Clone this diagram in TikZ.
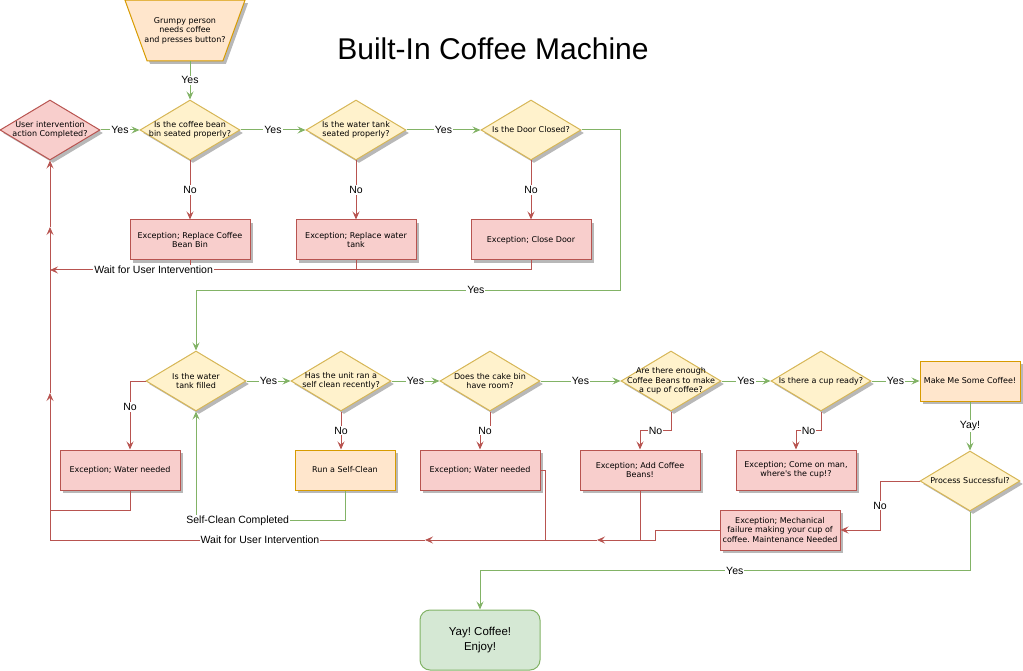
\documentclass[tikz,border=0pt]{standalone}
\usepackage{fontspec}
\setmainfont{Liberation Sans}
\newfontfamily\boxfont{DejaVu Sans}
\frenchspacing
\usepackage{tikz}
\usetikzlibrary{
  calc,             % Offsets on anchors
  shapes.geometric, % diamond, trapezium
  shadows           % Offset grey shadows under boxes
}
\usetikzlibrary{arrows.meta}

\definecolor{okGreen}{HTML}{82B366}
\definecolor{badRed}{HTML}{B85450}
\definecolor{askFill}{HTML}{FFF2CC}
\definecolor{askLine}{HTML}{D6B656}
\definecolor{failFill}{HTML}{F8CECC}
\definecolor{doFill}{HTML}{FFE6CC}
\definecolor{doLine}{HTML}{D79B00}
\definecolor{doneFill}{HTML}{D5E8D4}

\begin{document}
\begin{tikzpicture}[x=1pt, y=-1pt,
    boxshadow/.style={drop shadow={shadow xshift=3pt, shadow yshift=-3pt, fill=black!28, opacity=1}},
    boxtext/.style={font=\boxfont\fontsize{8}{9.5}\selectfont, align=center},
    question/.style={diamond, aspect=1.667, minimum width=100pt, minimum height=60pt, inner sep=-15pt,
      draw=askLine, line width=1pt, fill=askFill, boxshadow, boxtext},
    alarm/.style={question, draw=badRed, fill=failFill},
    failbox/.style={rectangle, minimum width=120pt, minimum height=40pt, inner sep=2pt,
      draw=badRed, line width=1pt, fill=failFill, boxshadow, boxtext},
    actbox/.style={failbox, minimum width=100pt, draw=doLine, fill=doFill},
    startbox/.style={trapezium, trapezium stretches body=true, shape border rotate=180, trapezium angle=70,
      minimum width=120pt, inner xsep=-4pt, inner ysep=17pt, draw=doLine, line width=1pt, fill=doFill,
      boxshadow, boxtext},
    donebox/.style={rectangle, rounded corners=10pt, minimum width=120pt, minimum height=60pt,
      draw=okGreen, line width=1pt, fill=doneFill, align=center, font=\fontsize{11.5}{15}\selectfont},
    tip/.style={-{Stealth[length=8pt, width=7pt, inset=3pt]}},
    yesline/.style={draw=okGreen, line width=1pt, tip},
    noline/.style={draw=badRed, line width=1pt, tip},
    redline/.style={draw=badRed, line width=1pt},
    lbl/.style={fill=white, inner sep=1pt, text=black, font=\fontsize{10.5}{12}\selectfont}]
  \useasboundingbox (0,0) rectangle (1023,671);

  \node[font=\fontsize{30}{34}\selectfont] (title) at (493,49) {Built-In Coffee Machine};
  \node[startbox] (start) at (185,30.5) {Grumpy person\\needs coffee\\and presses button?};

  % top row of checks
  \node[alarm] (d0) at (50,130) {User intervention\\action Completed?};
  \node[question] (d1) at (190,130) {Is the coffee bean\\bin seated properly?};
  \node[question] (d2) at (356,130) {Is the water tank\\seated properly?};
  \node[question] (d3) at (531,130) {Is the Door Closed?};
  \node[failbox] (e1) at (190,240) {Exception; Replace Coffee\\Bean Bin};
  \node[failbox] (e2) at (356,240) {Exception; Replace water\\tank};
  \node[failbox] (e3) at (531,240) {Exception; Close Door};

  % bottom row of checks
  \node[question] (d4) at (196,381) {Is the water\\tank filled};
  \node[question] (d5) at (341,381) {Has the unit ran a\\self clean recently?};
  \node[question] (d6) at (490,381) {Does the cake bin\\have room?};
  \node[question] (d7) at (671,381) {Are there enough\\Coffee Beans to make\\a cup of coffee?};
  \node[question] (d8) at (821,381) {Is there a cup ready?};
  \node[actbox] (p1) at (970,381) {Make Me Some Coffee!};
  \node[question] (d9) at (970,481) {Process Successful?};
  \node[failbox] (e4) at (120,470) {Exception; Water needed};
  \node[actbox] (p2) at (345,470) {Run a Self-Clean};
  \node[failbox] (e5) at (480,470) {Exception; Water needed};
  \node[failbox] (e6) at (640,470) {Exception; Add Coffee\\Beans!};
  \node[failbox] (e7) at (796,470) {Exception; Come on man,\\where's the cup!?};
  \node[failbox] (e8) at (780,530) {Exception; Mechanical\\failure making your cup of\\coffee. Maintenance Needed};
  \node[donebox] (done) at (480,640) {Yay! Coffee!\\Enjoy!};

  % corners of the return lines
  \coordinate (wTop) at (50,270);
  \coordinate (wMid) at (50,510);
  \coordinate (wBot) at (50,540);
  \coordinate (upA) at (50,393);
  \coordinate (upB) at (50,227);
  \coordinate (lowA) at (425,540);
  \coordinate (lowB) at (597,540);
  \coordinate (lowC) at (655,540);
  \coordinate (cakeC) at (545,540);
  \coordinate (doorC) at (620,290);
  \coordinate (failC) at (880,530);

  % top row
  \draw[yesline] (d1.north |- start.south) -- node[lbl]{Yes} (d1.north);
  \draw[yesline] (d0.east) -- node[lbl]{Yes} (d1.west);
  \draw[yesline] (d1.east) -- node[lbl]{Yes} (d2.west);
  \draw[yesline] (d2.east) -- node[lbl]{Yes} (d3.west);
  \draw[yesline] (d3.east) -| (doorC) -- node[lbl, pos=0.34]{Yes} (doorC -| d4.north) -- (d4.north);
  \draw[noline] (d1.south) -- node[lbl]{No} (e1.north);
  \draw[noline] (d2.south) -- node[lbl]{No} (e2.north);
  \draw[noline] (d3.south) -- node[lbl]{No} (e3.north);
  \draw[redline] (e3.south) |- (e1.south |- wTop);
  \draw[redline] (e2.south) -- (e2.south |- wTop);
  \draw[noline] (e1.south) |- node[lbl, pos=0.63]{Wait for User Intervention} (wTop);
  \draw[noline] (wBot) -- (upA);
  \draw[noline] (upA) -- (upB);
  \draw[noline] (upB) -- (d0.south);

  % bottom row
  \draw[yesline] (d4.east) -- node[lbl]{Yes} (d5.west);
  \draw[yesline] (d5.east) -- node[lbl]{Yes} (d6.west);
  \draw[yesline] (d6.east) -- node[lbl]{Yes} (d7.west);
  \draw[yesline] (d7.east) -- node[lbl]{Yes} (d8.west);
  \draw[yesline] (d8.east) -- node[lbl]{Yes} (p1.west);
  \draw[noline] (d4.west) -| node[lbl, pos=0.69]{No} ($(e4.north)+(10,0)$);
  \draw[noline] (d5.south) -- node[lbl]{No} (d5.south |- p2.north);
  \draw[noline] (d6.south) -- ++(0,19) -| node[lbl, pos=0.25]{No} (e5.north);
  \draw[noline] (d7.south) -- ++(0,19) -| node[lbl, pos=0.25]{No} (e6.north);
  \draw[noline] (d8.south) -- ++(0,19) -| node[lbl, pos=0.25]{No} (e7.north);
  \draw[yesline] (p2.south) -- ++(0,30) -| node[lbl, pos=0.36]{Self-Clean Completed} (d4.south);
  \draw[yesline] (p1.south) -- node[lbl]{Yay!} (d9.north);
  \draw[noline] (d9.west) -| node[lbl, pos=0.75]{No} (failC) -- (e8.east);
  \draw[yesline] (d9.south) -- ++(0,59) -| node[lbl, pos=0.24]{Yes} (done.north);

  % back to the user
  \draw[redline] ($(e4.south)+(10,0)$) |- (wMid);
  \draw[redline] (e5.east) -| (cakeC);
  \draw[redline] (e6.south) -- (e6.south |- wBot);
  \draw[noline] (e8.west) -| (lowC) -- (lowB);
  \draw[noline] (lowB) -- (lowA);
  \draw[redline] (lowA) -- node[lbl, pos=0.44]{Wait for User Intervention} (wBot);
\end{tikzpicture}
\end{document}
